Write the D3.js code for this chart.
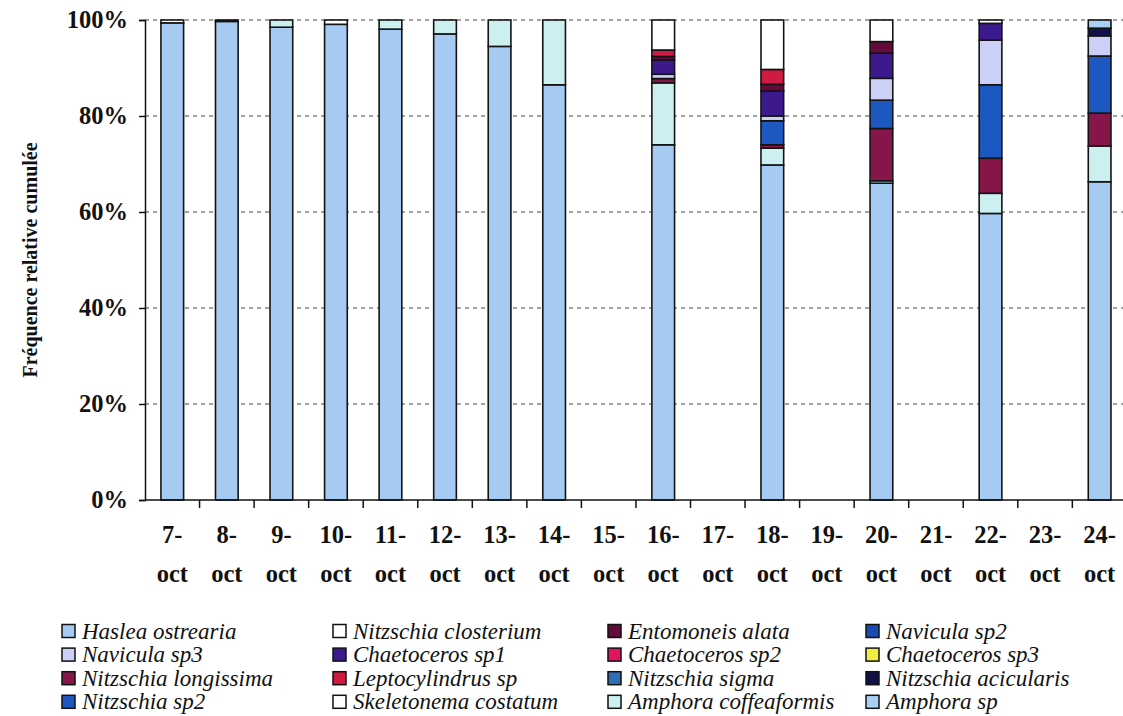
<!DOCTYPE html>
<html>
<head>
<meta charset="utf-8">
<script src="https://cdn.jsdelivr.net/npm/d3@7"></script>
<style>
  html, body { margin: 0; padding: 0; background: #fff; }
  svg { display: block; }
</style>
</head>
<body>
<svg id="chart" width="1123" height="716"></svg>
<script>
// Sampling dates (day of October)
const dates = ["7-oct","8-oct","9-oct","10-oct","11-oct","12-oct","13-oct","14-oct","15-oct",
               "16-oct","17-oct","18-oct","19-oct","20-oct","21-oct","22-oct","23-oct","24-oct"];

// Species, in legend order (read row by row)
const species = [
  "Haslea ostrearia","Nitzschia closterium","Entomoneis alata","Navicula sp2",
  "Navicula sp3","Chaetoceros sp1","Chaetoceros sp2","Chaetoceros sp3",
  "Nitzschia longissima","Leptocylindrus sp","Nitzschia sigma","Nitzschia acicularis",
  "Nitzschia sp2","Skeletonema costatum","Amphora coffeaformis","Amphora sp"
];
const colors = [
  "#a6cbf2","#ffffff","#640b3c","#1a4cb4",
  "#ccd0f7","#3c1a8e","#e0145c","#f4ec40",
  "#86164a","#d01a42","#2f6db4","#10104a",
  "#1d58c2","#ffffff","#ccefef","#a9d0f5"
];

// Stacking order, bottom to top
const stackOrder = [
  "Haslea ostrearia","Amphora coffeaformis","Nitzschia longissima","Nitzschia sp2",
  "Navicula sp3","Chaetoceros sp1","Entomoneis alata","Leptocylindrus sp",
  "Nitzschia acicularis","Nitzschia closterium","Amphora sp",
  "Navicula sp2","Chaetoceros sp2","Chaetoceros sp3","Nitzschia sigma","Skeletonema costatum"
];

// Relative frequency (%) per species and date
const hasleaOstrearia     = [99.4,99.7,98.5,99.1,98.1,97.1,94.5,86.5,0,74.0,0,69.8,0,66.0,0,59.7,0,66.3];
const amphoraCoffeaformis = [0,0,1.5,0,1.9,2.9,5.5,13.5,0,12.9,0,3.5,0,0.5,0,4.2,0,7.45];
const nitzschiaLongissima = [0,0,0,0,0,0,0,0,0,0.9,0,0.7,0,10.9,0,7.3,0,6.85];
const nitzschiaSp2        = [0,0,0,0,0,0,0,0,0,0,0,5.0,0,5.9,0,15.3,0,11.9];
const naviculaSp3         = [0,0,0,0,0,0,0,0,0,0.9,0,1.0,0,4.55,0,9.3,0,4.2];
const chaetocerosSp1      = [0,0,0,0,0,0,0,0,0,3.0,0,5.2,0,5.25,0,3.5,0,0];
const entomoneisAlata     = [0,0,0,0,0,0,0,0,0,0.7,0,1.4,0,2.4,0,0,0,0];
const leptocylindrusSp    = [0,0,0,0,0,0,0,0,0,1.35,0,3.1,0,0,0,0,0,0];
const nitzschiaAcicularis = [0,0,0,0,0,0,0,0,0,0,0,0,0,0,0,0,0,1.6];
const nitzschiaClosterium = [0.6,0.3,0,0.9,0,0,0,0,0,6.25,0,10.3,0,4.5,0,0.7,0,0];
const amphoraSp           = [0,0,0,0,0,0,0,0,0,0,0,0,0,0,0,0,0,1.7];
const zeros               = [0,0,0,0,0,0,0,0,0,0,0,0,0,0,0,0,0,0];

const seriesValues = {
  "Haslea ostrearia": hasleaOstrearia,
  "Amphora coffeaformis": amphoraCoffeaformis,
  "Nitzschia longissima": nitzschiaLongissima,
  "Nitzschia sp2": nitzschiaSp2,
  "Navicula sp3": naviculaSp3,
  "Chaetoceros sp1": chaetocerosSp1,
  "Entomoneis alata": entomoneisAlata,
  "Leptocylindrus sp": leptocylindrusSp,
  "Nitzschia acicularis": nitzschiaAcicularis,
  "Nitzschia closterium": nitzschiaClosterium,
  "Amphora sp": amphoraSp,
  "Navicula sp2": zeros,
  "Chaetoceros sp2": zeros,
  "Chaetoceros sp3": zeros,
  "Nitzschia sigma": zeros,
  "Skeletonema costatum": zeros
};

const yTicks = [0, 20, 40, 60, 80, 100];

const svg = d3.select("#chart");
const margin = { left: 145, top: 20, bottom: 500 };
const plotRight = 145 + 18 * 54.55;

const x = d3.scaleBand().domain(dates).range([margin.left, plotRight]).paddingInner(0.584).paddingOuter(0.292);
const xStep = d3.scaleBand().domain(dates).range([margin.left, plotRight]);
const y = d3.scaleLinear().domain([0, 100]).range([margin.bottom, margin.top]);
const color = d3.scaleOrdinal().domain(species).range(colors);

const rows = dates.map((d, i) => {
  const r = { date: d };
  species.forEach(s => { r[s] = seriesValues[s][i]; });
  return r;
});
const stacked = d3.stack().keys(stackOrder)(rows);

const serif = "'Liberation Serif', 'Times New Roman', serif";

// Gridlines
svg.append("g").selectAll("line")
  .data(yTicks.filter(t => t > 0))
  .join("line")
  .attr("x1", margin.left).attr("x2", 1123)
  .attr("y1", d => y(d)).attr("y2", d => y(d))
  .attr("stroke", "#444").attr("stroke-width", 1.2)
  .attr("stroke-dasharray", "4,4");

// Stacked columns
svg.append("g").selectAll("g")
  .data(stacked)
  .join("g")
  .attr("fill", d => color(d.key))
  .selectAll("rect")
  .data(d => d.filter(p => p[1] - p[0] > 0))
  .join("rect")
  .attr("x", p => x(p.data.date))
  .attr("width", x.bandwidth())
  .attr("y", p => y(p[1]))
  .attr("height", p => y(p[0]) - y(p[1]))
  .attr("stroke", "#141414").attr("stroke-width", 1.6);

// Y axis
const yAxis = svg.append("g")
  .attr("transform", `translate(${margin.left},0)`)
  .call(d3.axisLeft(y).tickValues(yTicks).tickFormat(d => d + "%").tickSizeOuter(0).tickSize(6).tickPadding(11));
yAxis.select(".domain").attr("stroke", "#111").attr("stroke-width", 1.5);
yAxis.selectAll(".tick line").attr("stroke", "#111").attr("stroke-width", 1.5);
yAxis.selectAll("text")
  .attr("font-family", serif).attr("font-weight", "bold").attr("font-size", 24.5).attr("fill", "#111");

// X axis baseline and category separators
svg.append("line")
  .attr("x1", margin.left).attr("x2", 1123)
  .attr("y1", y(0)).attr("y2", y(0))
  .attr("stroke", "#111").attr("stroke-width", 1.5);
svg.append("g").selectAll("line")
  .data(dates)
  .join("line")
  .attr("x1", d => xStep(d) + xStep.bandwidth()).attr("x2", d => xStep(d) + xStep.bandwidth())
  .attr("y1", y(0)).attr("y2", y(0) + 8)
  .attr("stroke", "#111").attr("stroke-width", 1.5);

// Two-line date labels
const xl = svg.append("g").selectAll("text")
  .data(dates)
  .join("text")
  .attr("x", d => x(d) + x.bandwidth() / 2)
  .attr("text-anchor", "middle")
  .attr("font-family", serif).attr("font-weight", "bold").attr("font-size", 24.5).attr("fill", "#111");
xl.append("tspan").attr("x", d => x(d) + x.bandwidth() / 2).attr("y", 543).text(d => d.split("-")[0] + "-");
xl.append("tspan").attr("x", d => x(d) + x.bandwidth() / 2).attr("y", 582).text(d => d.split("-")[1]);

// Y axis title
svg.append("text")
  .attr("transform", "translate(37,260) rotate(-90)")
  .attr("text-anchor", "middle")
  .attr("font-family", serif).attr("font-weight", "bold").attr("font-size", 20).attr("fill", "#111")
  .text("Fréquence relative cumulée");

// Legend (4 columns, row by row)
const legendCols = [62, 333, 608, 866];
const legendRow0 = 631, legendDy = 23.6;
const lg = svg.append("g").selectAll("g")
  .data(species)
  .join("g")
  .attr("transform", (d, i) => `translate(${legendCols[i % 4]},${legendRow0 + Math.floor(i / 4) * legendDy})`);
lg.append("rect")
  .attr("x", 0).attr("y", -6.5).attr("width", 13).attr("height", 13)
  .attr("fill", d => color(d)).attr("stroke", "#111").attr("stroke-width", 1.5);
lg.append("text")
  .attr("x", 20).attr("y", 7.5)
  .attr("font-family", serif).attr("font-style", "italic").attr("font-size", 23).attr("fill", "#111")
  .text(d => d);
</script>
</body>
</html>
